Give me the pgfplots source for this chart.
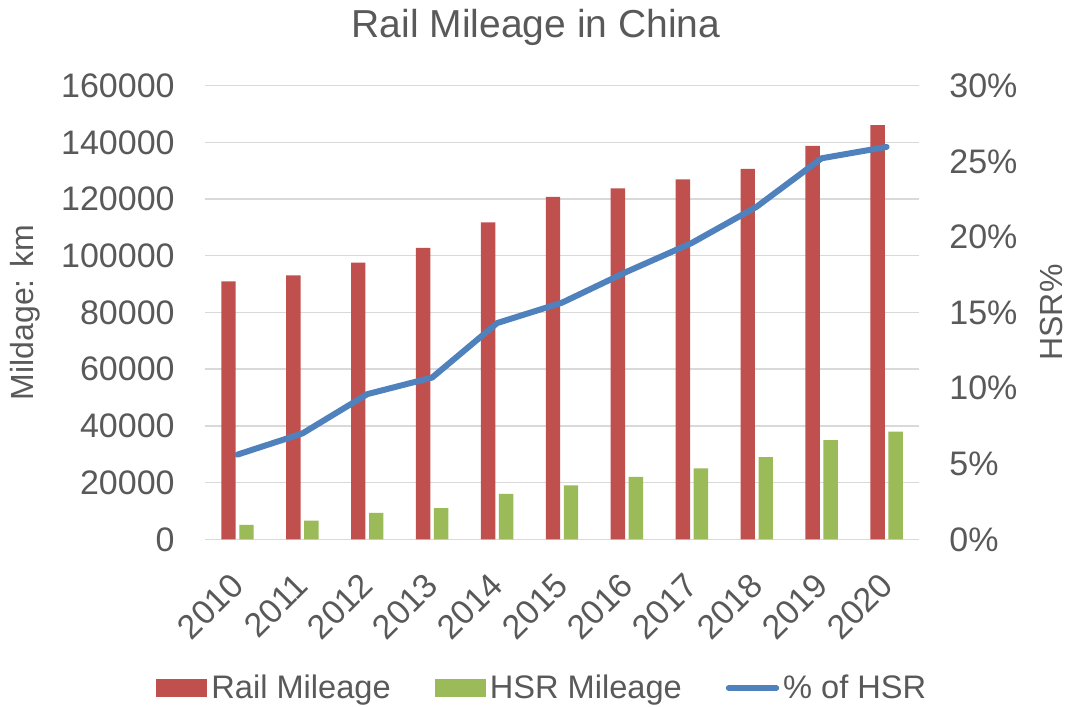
\documentclass[border=0pt]{standalone}
\usepackage{fontspec}
\setmainfont{Liberation Sans}
\usepackage{pgfplots}
\usepackage{pgfplotstable}
\pgfplotsset{compat=1.18}
\definecolor{railred}{HTML}{C0504D}
\definecolor{hsrgreen}{HTML}{9BBB59}
\definecolor{hsrblue}{HTML}{4F81BD}
\definecolor{gridgray}{HTML}{D9D9D9}
\definecolor{textgray}{HTML}{595959}

\pgfplotstableread{
x rail hsr pct
0 91000 5100 5.6
1 93100 6600 7.0
2 97600 9300 9.6
3 102800 11000 10.7
4 111800 16000 14.3
5 120800 19000 15.65
6 123800 22000 17.7
7 127000 25000 19.6
8 130700 29000 22.0
9 138800 35000 25.2
10 146100 38000 25.95
}\datatable

\begin{document}
\begin{tikzpicture}
\path[use as bounding box] (-102.5pt,-83.35pt) rectangle (432pt,269.65pt);
\begin{axis}[
  at={(0pt,0pt)}, anchor=south west,
  scale only axis, width=357pt, height=226.8pt,
  xmin=-0.5, xmax=10.5, ymin=0, ymax=160000,
  xtick={0,1,...,10},
  xticklabels={2010,2011,2012,2013,2014,2015,2016,2017,2018,2019,2020},
  ytick={0,20000,40000,60000,80000,100000,120000,140000,160000},
  yticklabels={0,20000,40000,60000,80000,100000,120000,140000,160000},
  scaled y ticks=false,
  ymajorgrids, grid style={gridgray, line width=0.7pt},
  axis line style={draw=none},
  tick style={draw=none},
  major tick length=0pt,
  ticklabel style={font=\fontsize{17}{20}\selectfont, text=textgray},
  yticklabel style={anchor=east, inner sep=0pt, xshift=-15pt},
  xticklabel style={yshift=-20pt, rotate=45, anchor=east, inner sep=0pt},
  ybar, bar width=7.2pt,
  title={Rail Mileage in China},
  title style={at={(axis description cs:0.4636,1.1067)}, anchor=base, yshift=-6pt, font=\fontsize{19.5}{23}\selectfont, text=textgray},
  ylabel={Mildage: km},
  ylabel style={at={(axis description cs:-0.2521,0.5)}, anchor=center, font=\fontsize{16}{19}\selectfont, text=textgray},
  legend style={draw=none, fill=none, inner sep=0pt, at={(axis description cs:-0.0686,-0.3278)}, anchor=west,
    font=\fontsize{16.3}{19}\selectfont, text=textgray,
    /tikz/every even column/.append style={column sep=20pt}},
  legend columns=3,
]
\addplot[fill=railred, draw=none, bar shift=-4.5pt,
  legend image code/.code={\fill[railred] (0pt,-4.5pt) rectangle (25.5pt,4.5pt);}]
  table[x=x, y=rail]{\datatable};
\addlegendentry{Rail Mileage}
\addplot[fill=hsrgreen, draw=none, bar shift=4.5pt,
  legend image code/.code={\fill[hsrgreen] (0pt,-4.5pt) rectangle (25.5pt,4.5pt);}]
  table[x=x, y=hsr]{\datatable};
\addlegendentry{HSR Mileage}
\addlegendimage{legend image code/.code={\draw[hsrblue, line width=2.7pt, line cap=round] (1.35pt,0pt) -- (25.3pt,0pt);}}
\addlegendentry{\% of HSR}
\end{axis}
\begin{axis}[
  at={(0pt,0pt)}, anchor=south west,
  scale only axis, width=357pt, height=226.8pt,
  xmin=-0.5, xmax=10.5, ymin=0, ymax=30,
  axis x line=none, axis y line*=right,
  axis line style={draw=none},
  tick style={draw=none},
  major tick length=0pt,
  ytick={0,5,...,30},
  yticklabels={0\%,5\%,10\%,15\%,20\%,25\%,30\%},
  ticklabel style={font=\fontsize{17}{20}\selectfont, text=textgray},
  yticklabel style={anchor=west, inner sep=0pt, xshift=15pt},
  ylabel={HSR\%},
  ylabel style={at={(axis description cs:1.1849,0.5)}, anchor=center, font=\fontsize{16}{19}\selectfont, text=textgray},
]
\addplot[hsrblue, line width=3pt, line join=round, line cap=round, mark=none]
  table[x=x, y=pct]{\datatable};
\end{axis}
\end{tikzpicture}
\end{document}
